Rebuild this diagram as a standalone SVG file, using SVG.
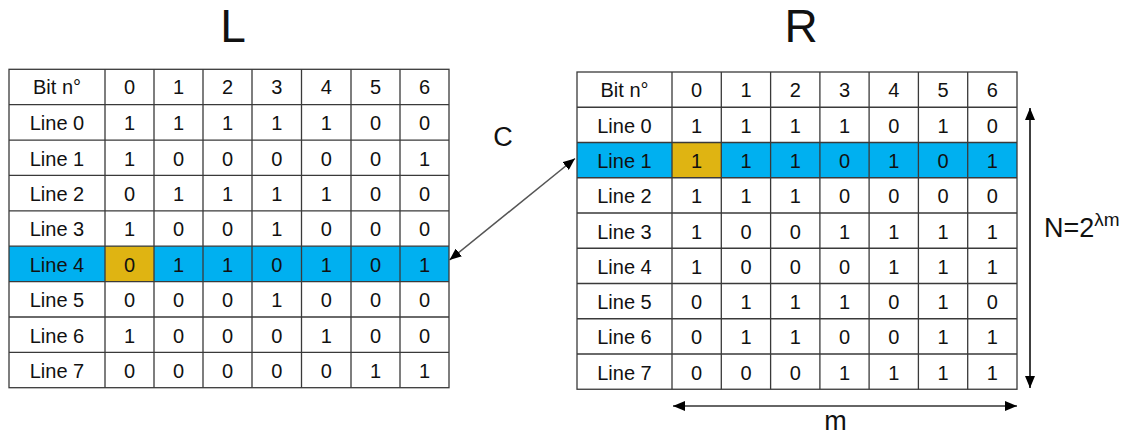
<svg xmlns="http://www.w3.org/2000/svg" width="1127" height="436" viewBox="0 0 1127 436">
<defs>
<style>
text{font-family:"Liberation Sans",Arial,sans-serif;fill:#111;}
.c{font-size:20px;text-anchor:middle;}
.t{font-size:46px;text-anchor:middle;}
.lbl{font-size:27px;}
.g{stroke:#3a3a3a;stroke-width:1.3;fill:none;}
.blue{fill:#00B0F0;}
.gold{fill:#DFB412;}
</style>
<marker id="ah" viewBox="0 0 12 10" refX="12" refY="5" markerWidth="12" markerHeight="10" markerUnits="userSpaceOnUse" orient="auto-start-reverse">
<path d="M0,0 L12,5 L0,10 z" fill="#000"/>
</marker>
</defs>
<rect width="1127" height="436" fill="#fff"/>

<text class="t" x="233" y="42">L</text>
<text class="t" x="801" y="42">R</text>

<g id="tableL">
<rect class="blue" x="9" y="246.2" width="440" height="35.4"/>
<rect class="gold" x="105" y="246.2" width="49" height="35.4"/>
<rect class="g" x="9" y="69.3" width="440" height="318.4"/>
<path class="g" d="M105,69.3V387.7M154,69.3V387.7M203,69.3V387.7M252,69.3V387.7M301.5,69.3V387.7M351,69.3V387.7M400,69.3V387.7M9,104.7H449M9,140.1H449M9,175.4H449M9,210.8H449M9,246.2H449M9,281.6H449M9,317H449M9,352.3H449"/>
<g class="c" transform="translate(0,-1.5)">
<text x="57" y="95.5">Bit n°</text><text x="129.5" y="95.5">0</text><text x="178.5" y="95.5">1</text><text x="227.5" y="95.5">2</text><text x="276.8" y="95.5">3</text><text x="326.2" y="95.5">4</text><text x="375.5" y="95.5">5</text><text x="424.5" y="95.5">6</text>
<text x="57" y="131.7">Line 0</text><text x="129.5" y="131.7">1</text><text x="178.5" y="131.7">1</text><text x="227.5" y="131.7">1</text><text x="276.8" y="131.7">1</text><text x="326.2" y="131.7">1</text><text x="375.5" y="131.7">0</text><text x="424.5" y="131.7">0</text>
<text x="57" y="167.1">Line 1</text><text x="129.5" y="167.1">1</text><text x="178.5" y="167.1">0</text><text x="227.5" y="167.1">0</text><text x="276.8" y="167.1">0</text><text x="326.2" y="167.1">0</text><text x="375.5" y="167.1">0</text><text x="424.5" y="167.1">1</text>
<text x="57" y="202.5">Line 2</text><text x="129.5" y="202.5">0</text><text x="178.5" y="202.5">1</text><text x="227.5" y="202.5">1</text><text x="276.8" y="202.5">1</text><text x="326.2" y="202.5">1</text><text x="375.5" y="202.5">0</text><text x="424.5" y="202.5">0</text>
<text x="57" y="237.9">Line 3</text><text x="129.5" y="237.9">1</text><text x="178.5" y="237.9">0</text><text x="227.5" y="237.9">0</text><text x="276.8" y="237.9">1</text><text x="326.2" y="237.9">0</text><text x="375.5" y="237.9">0</text><text x="424.5" y="237.9">0</text>
<text x="57" y="273.3">Line 4</text><text x="129.5" y="273.3">0</text><text x="178.5" y="273.3">1</text><text x="227.5" y="273.3">1</text><text x="276.8" y="273.3">0</text><text x="326.2" y="273.3">1</text><text x="375.5" y="273.3">0</text><text x="424.5" y="273.3">1</text>
<text x="57" y="308.7">Line 5</text><text x="129.5" y="308.7">0</text><text x="178.5" y="308.7">0</text><text x="227.5" y="308.7">0</text><text x="276.8" y="308.7">1</text><text x="326.2" y="308.7">0</text><text x="375.5" y="308.7">0</text><text x="424.5" y="308.7">0</text>
<text x="57" y="344">Line 6</text><text x="129.5" y="344">1</text><text x="178.5" y="344">0</text><text x="227.5" y="344">0</text><text x="276.8" y="344">0</text><text x="326.2" y="344">1</text><text x="375.5" y="344">0</text><text x="424.5" y="344">0</text>
<text x="57" y="379.4">Line 7</text><text x="129.5" y="379.4">0</text><text x="178.5" y="379.4">0</text><text x="227.5" y="379.4">0</text><text x="276.8" y="379.4">0</text><text x="326.2" y="379.4">0</text><text x="375.5" y="379.4">1</text><text x="424.5" y="379.4">1</text>
</g>
</g>

<g id="tableR">
<rect class="blue" x="577" y="142.5" width="440" height="35.25"/>
<rect class="gold" x="672" y="142.5" width="49.3" height="35.25"/>
<rect class="g" x="577" y="72" width="440" height="317.25"/>
<path class="g" d="M672,72V389.25M721.3,72V389.25M770.6,72V389.25M819.9,72V389.25M869.1,72V389.25M918.4,72V389.25M967.7,72V389.25M577,107.25H1017M577,142.5H1017M577,177.75H1017M577,213H1017M577,248.25H1017M577,283.5H1017M577,318.75H1017M577,354H1017"/>
<g class="c" transform="translate(0,-1.5)">
<text x="624.5" y="98">Bit n°</text><text x="696.6" y="98">0</text><text x="746" y="98">1</text><text x="795.2" y="98">2</text><text x="844.5" y="98">3</text><text x="893.8" y="98">4</text><text x="943" y="98">5</text><text x="992.3" y="98">6</text>
<text x="624.5" y="134.2">Line 0</text><text x="696.6" y="134.2">1</text><text x="746" y="134.2">1</text><text x="795.2" y="134.2">1</text><text x="844.5" y="134.2">1</text><text x="893.8" y="134.2">0</text><text x="943" y="134.2">1</text><text x="992.3" y="134.2">0</text>
<text x="624.5" y="169.5">Line 1</text><text x="696.6" y="169.5">1</text><text x="746" y="169.5">1</text><text x="795.2" y="169.5">1</text><text x="844.5" y="169.5">0</text><text x="893.8" y="169.5">1</text><text x="943" y="169.5">0</text><text x="992.3" y="169.5">1</text>
<text x="624.5" y="204.7">Line 2</text><text x="696.6" y="204.7">1</text><text x="746" y="204.7">1</text><text x="795.2" y="204.7">1</text><text x="844.5" y="204.7">0</text><text x="893.8" y="204.7">0</text><text x="943" y="204.7">0</text><text x="992.3" y="204.7">0</text>
<text x="624.5" y="240">Line 3</text><text x="696.6" y="240">1</text><text x="746" y="240">0</text><text x="795.2" y="240">0</text><text x="844.5" y="240">1</text><text x="893.8" y="240">1</text><text x="943" y="240">1</text><text x="992.3" y="240">1</text>
<text x="624.5" y="275.2">Line 4</text><text x="696.6" y="275.2">1</text><text x="746" y="275.2">0</text><text x="795.2" y="275.2">0</text><text x="844.5" y="275.2">0</text><text x="893.8" y="275.2">1</text><text x="943" y="275.2">1</text><text x="992.3" y="275.2">1</text>
<text x="624.5" y="310.5">Line 5</text><text x="696.6" y="310.5">0</text><text x="746" y="310.5">1</text><text x="795.2" y="310.5">1</text><text x="844.5" y="310.5">1</text><text x="893.8" y="310.5">0</text><text x="943" y="310.5">1</text><text x="992.3" y="310.5">0</text>
<text x="624.5" y="345.7">Line 6</text><text x="696.6" y="345.7">0</text><text x="746" y="345.7">1</text><text x="795.2" y="345.7">1</text><text x="844.5" y="345.7">0</text><text x="893.8" y="345.7">0</text><text x="943" y="345.7">1</text><text x="992.3" y="345.7">1</text>
<text x="624.5" y="381">Line 7</text><text x="696.6" y="381">0</text><text x="746" y="381">0</text><text x="795.2" y="381">0</text><text x="844.5" y="381">1</text><text x="893.8" y="381">1</text><text x="943" y="381">1</text><text x="992.3" y="381">1</text>
</g>
</g>

<g id="connectors">
<line x1="449.5" y1="260" x2="575" y2="158.5" stroke="#555" stroke-width="1.5" marker-start="url(#ah)" marker-end="url(#ah)"/>
<line x1="1030" y1="108" x2="1030" y2="388" stroke="#000" stroke-width="1.5" marker-start="url(#ah)" marker-end="url(#ah)"/>
<line x1="673" y1="406" x2="1017" y2="406" stroke="#333" stroke-width="1.5" marker-start="url(#ah)" marker-end="url(#ah)"/>
</g>

<g id="labels">
<text class="lbl" x="503" y="146" text-anchor="middle">C</text>
<text class="lbl" x="1044" y="237">N=2<tspan font-size="19" dy="-11">λm</tspan></text>
<text class="lbl" x="835.5" y="430" text-anchor="middle" font-size="28">m</text>
</g>
</svg>
